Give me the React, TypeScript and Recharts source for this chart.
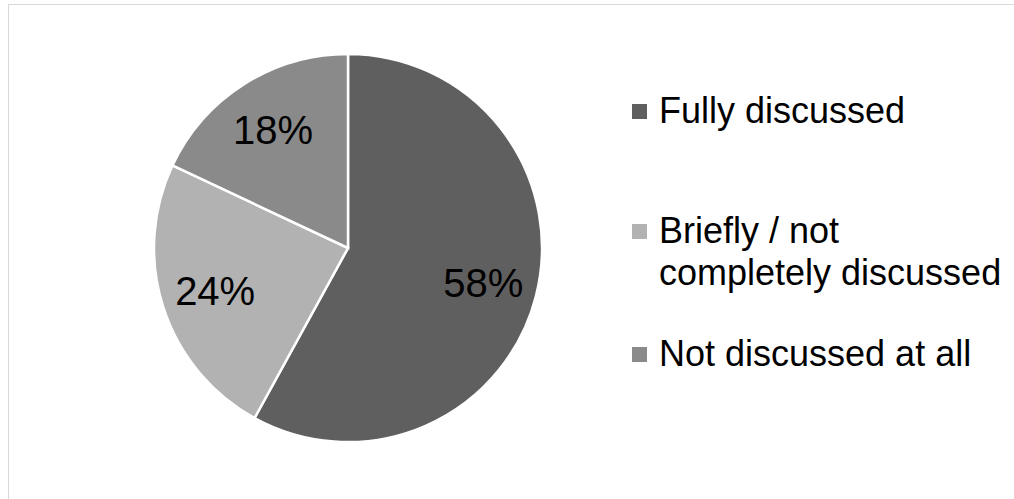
import React from "react";
import { PieChart, Pie, Cell } from "recharts";

const CATEGORIES = ["Fully discussed", "Briefly / not completely discussed", "Not discussed at all"];
const SHARES = [58, 24, 18];
const COLORS = ["#5f5f5f", "#b2b2b2", "#8a8a8a"];

const data = CATEGORIES.map((name, i) => ({ name, value: SHARES[i] }));

const FONT = "'Liberation Sans', Arial, sans-serif";
const RADIAN = Math.PI / 180;

const renderLabel = (props: any) => {
    const { cx, cy, midAngle, outerRadius, value } = props;
    const r = outerRadius * 0.72;
    const x = cx + r * Math.cos(-midAngle * RADIAN);
    const y = cy + r * Math.sin(-midAngle * RADIAN);
    return (
        <text
            x={x}
            y={y}
            fill="#000"
            textAnchor="middle"
            dominantBaseline="central"
            fontSize={40}
            fontFamily={FONT}
        >
            {`${value}%`}
        </text>
    );
};

// space under each legend entry
const GAPS = [78, 39, 0];

const ChartLegend: React.FC = () => (
    <div
        style={{
            position: "absolute",
            left: 632,
            top: 90,
            width: 380,
            fontFamily: FONT,
            fontSize: 36,
            lineHeight: "42px",
            color: "#000",
        }}
    >
        {data.map((entry, i) => (
            <div
                key={`legend-${i}`}
                style={{ display: "flex", alignItems: "flex-start", marginBottom: GAPS[i] }}
            >
                <span
                    style={{
                        width: 15,
                        height: 15,
                        marginTop: 14,
                        marginRight: 12,
                        background: COLORS[i],
                        flexShrink: 0,
                    }}
                />
                <span style={{ width: 352 }}>{entry.name}</span>
            </div>
        ))}
    </div>
);

const App: React.FC = () => {
    return (
        <div
            style={{
                position: "absolute",
                left: 0,
                top: 0,
                width: 1014,
                height: 499,
                overflow: "hidden",
                background: "#fff",
            }}
        >
            <div
                style={{
                    position: "absolute",
                    left: 8,
                    top: 4,
                    width: 1020,
                    height: 510,
                    border: "1px solid #d9d9d9",
                }}
            />
            <div style={{ position: "absolute", left: 0, top: 0 }}>
                <PieChart width={1014} height={499} margin={{ top: 0, right: 0, bottom: 0, left: 0 }}>
                    <Pie
                        data={data}
                        dataKey="value"
                        nameKey="name"
                        cx={348}
                        cy={248}
                        outerRadius={194}
                        startAngle={90}
                        endAngle={-270}
                        stroke="#fff"
                        strokeWidth={2.5}
                        label={renderLabel}
                        labelLine={false}
                        isAnimationActive={false}
                    >
                        {data.map((entry, index) => (
                            <Cell key={`cell-${index}`} fill={COLORS[index % COLORS.length]} />
                        ))}
                    </Pie>
                </PieChart>
            </div>
            <ChartLegend />
        </div>
    );
};

export default App;
